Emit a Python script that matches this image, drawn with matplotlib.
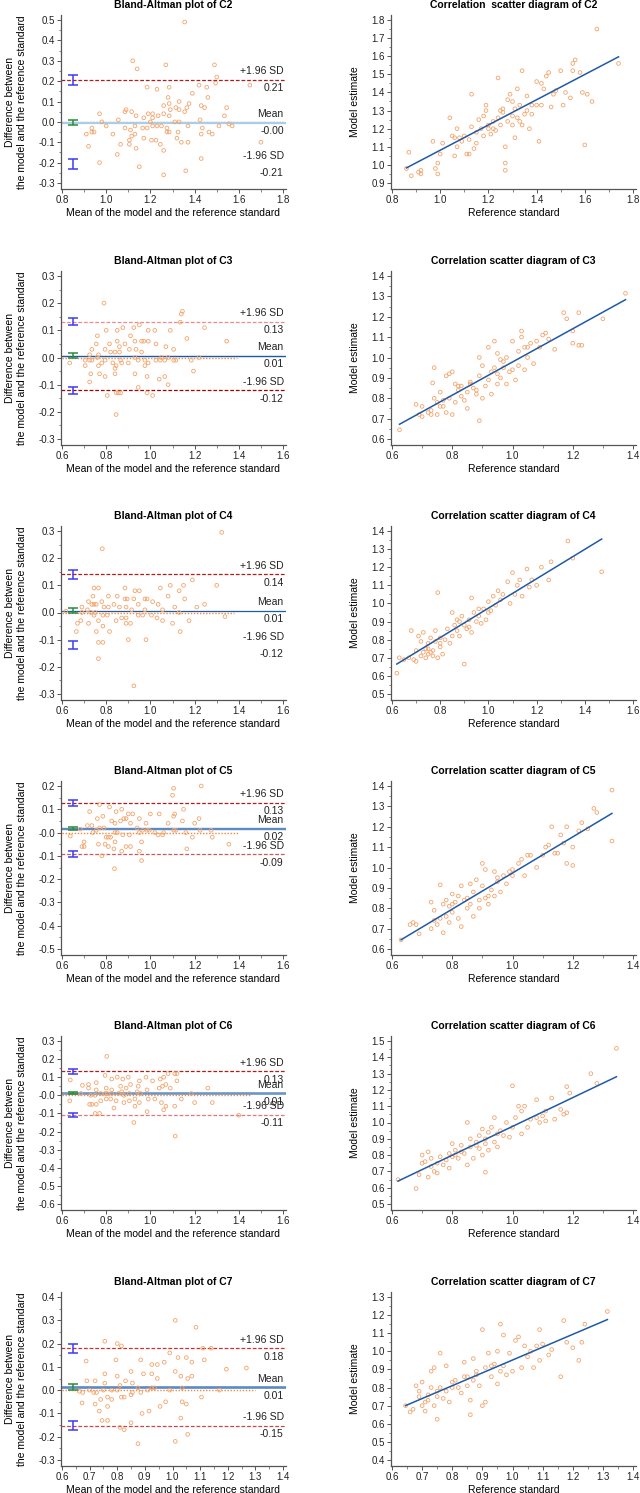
import numpy as np
import matplotlib
matplotlib.use('Agg')
import matplotlib.pyplot as plt
from matplotlib.ticker import FormatStrFormatter
import matplotlib.transforms as mtransforms

plt.rcParams['font.family'] = ['Liberation Sans', 'DejaVu Sans']
plt.rcParams['axes.unicode_minus'] = False

# (reference standard, model estimate) pairs
c2_pts = np.array([
    (0.86, 0.98), (0.87, 1.07), (0.88, 0.94), (0.91, 0.96), (0.92, 0.95), (0.92, 0.97),
    (0.97, 1.13), (0.98, 0.98), (0.99, 0.95), (0.99, 1.01), (1.00, 1.06), (1.01, 1.12),
    (1.04, 1.26), (1.06, 1.05), (1.06, 1.15), (1.07, 1.20), (1.07, 1.10), (1.08, 1.15),
    (1.09, 1.13), (1.10, 1.16), (1.11, 1.06), (1.12, 1.14), (1.13, 1.39), (1.13, 1.21),
    (1.14, 1.09), (1.15, 1.18), (1.16, 1.25), (1.17, 1.20), (1.18, 1.16), (1.18, 1.27),
    (1.19, 1.30), (1.20, 1.22), (1.21, 1.17), (1.22, 1.24), (1.22, 1.20), (1.23, 1.19),
    (1.24, 1.48), (1.24, 1.26), (1.25, 1.22), (1.26, 1.29), (1.26, 1.31), (1.27, 1.10),
    (1.27, 1.01), (1.27, 0.97), (1.28, 1.24), (1.28, 1.36), (1.29, 1.39), (1.30, 1.27),
    (1.30, 1.22), (1.31, 1.31), (1.31, 1.15), (1.32, 1.42), (1.32, 1.26), (1.33, 1.33),
    (1.34, 1.52), (1.34, 1.22), (1.35, 1.28), (1.36, 1.38), (1.36, 1.30), (1.37, 1.20),
    (1.38, 1.33), (1.40, 1.46), (1.40, 1.33), (1.41, 1.13), (1.42, 1.45), (1.43, 1.42),
    (1.44, 1.49), (1.45, 1.51), (1.46, 1.32), (1.47, 1.39), (1.48, 1.41), (1.50, 1.52),
    (1.51, 1.33), (1.52, 1.40), (1.54, 1.37), (1.55, 1.56), (1.55, 1.52), (1.56, 1.58),
    (1.58, 1.51), (1.59, 1.40), (1.60, 1.11), (1.61, 1.39), (1.63, 1.35), (1.65, 1.75),
    (1.74, 1.56), (1.15, 1.12), (1.20, 1.20), (1.05, 1.16), (1.25, 1.30), (1.30, 1.35),
    (1.33, 1.24), (1.38, 1.28), (1.42, 1.33), (1.12, 1.06), (1.19, 1.33),
])
c3_pts = np.array([
    (0.625, 0.645), (0.68, 0.77), (0.69, 0.72), (0.70, 0.71), (0.70, 0.76), (0.72, 0.73),
    (0.73, 0.72), (0.73, 0.74), (0.735, 0.875), (0.74, 0.95), (0.74, 0.80), (0.75, 0.78),
    (0.75, 0.72), (0.76, 0.83), (0.76, 0.76), (0.77, 0.79), (0.78, 0.91), (0.78, 0.73),
    (0.79, 0.92), (0.79, 0.80), (0.80, 0.72), (0.80, 0.93), (0.81, 0.87), (0.81, 0.78),
    (0.82, 0.84), (0.83, 0.81), (0.83, 0.86), (0.84, 0.79), (0.85, 0.83), (0.85, 0.75),
    (0.86, 0.87), (0.87, 0.85), (0.88, 0.82), (0.89, 0.91), (0.89, 1.00), (0.89, 0.69),
    (0.90, 0.80), (0.90, 0.96), (0.91, 0.86), (0.92, 0.89), (0.92, 1.05), (0.93, 0.82),
    (0.93, 0.93), (0.94, 0.95), (0.94, 1.08), (0.95, 0.87), (0.95, 1.02), (0.96, 0.90),
    (0.96, 0.99), (0.97, 0.95), (0.98, 0.87), (0.98, 1.00), (0.99, 0.93), (1.00, 1.08),
    (1.00, 0.94), (1.01, 0.89), (1.02, 1.03), (1.02, 0.96), (1.03, 1.13), (1.03, 1.10),
    (1.04, 0.94), (1.04, 1.05), (1.05, 1.00), (1.06, 1.07), (1.07, 0.97), (1.08, 1.08),
    (1.09, 1.05), (1.10, 1.11), (1.11, 1.12), (1.12, 1.09), (1.14, 1.04), (1.17, 1.22),
    (1.18, 1.19), (1.20, 1.13), (1.20, 1.07), (1.22, 1.22), (1.22, 1.06), (1.23, 1.06),
    (1.30, 1.19), (1.375, 1.315), (0.86, 0.88), (0.88, 0.84), (0.95, 0.92), (0.97, 0.98),
    (1.05, 1.05), (0.82, 0.86), (0.77, 0.76),
])
c4_pts = np.array([
    (0.62, 0.615), (0.63, 0.70), (0.65, 0.69), (0.67, 0.70), (0.68, 0.85), (0.69, 0.69),
    (0.70, 0.68), (0.70, 0.74), (0.71, 0.82), (0.72, 0.71), (0.72, 0.79), (0.73, 0.73),
    (0.73, 0.84), (0.74, 0.75), (0.74, 0.70), (0.75, 0.72), (0.75, 0.78), (0.76, 0.73),
    (0.76, 0.81), (0.77, 0.74), (0.77, 0.71), (0.78, 0.79), (0.78, 0.85), (0.79, 1.06),
    (0.79, 0.70), (0.80, 0.76), (0.80, 0.81), (0.81, 0.72), (0.82, 0.80), (0.83, 0.86),
    (0.84, 0.78), (0.85, 0.95), (0.85, 0.82), (0.86, 0.88), (0.87, 0.85), (0.88, 0.90),
    (0.88, 0.82), (0.89, 0.93), (0.90, 0.665), (0.90, 0.88), (0.91, 0.86), (0.92, 0.91),
    (0.93, 1.03), (0.93, 0.84), (0.94, 0.95), (0.95, 0.90), (0.96, 0.93), (0.97, 0.89),
    (0.98, 0.97), (0.99, 0.91), (1.00, 1.01), (1.01, 0.96), (1.02, 1.04), (1.03, 0.99),
    (1.04, 1.07), (1.05, 1.02), (1.06, 1.05), (1.08, 1.12), (1.09, 1.00), (1.10, 1.17),
    (1.11, 1.05), (1.12, 1.10), (1.13, 1.13), (1.14, 1.04), (1.16, 1.19), (1.17, 1.09),
    (1.18, 1.13), (1.20, 1.10), (1.22, 1.20), (1.25, 1.13), (1.26, 1.23), (1.33, 1.345),
    (1.35, 1.25), (1.47, 1.175), (0.75, 0.75), (0.80, 0.78), (0.92, 0.87), (0.96, 0.97),
    (1.00, 0.95), (0.87, 0.91),
])
c5_pts = np.array([
    (0.63, 0.645), (0.66, 0.72), (0.67, 0.73), (0.68, 0.72), (0.69, 0.675), (0.73, 0.83),
    (0.73, 0.70), (0.74, 0.74), (0.74, 0.79), (0.75, 0.72), (0.76, 0.915), (0.76, 0.75),
    (0.77, 0.82), (0.77, 0.68), (0.78, 0.84), (0.78, 0.76), (0.79, 0.73), (0.79, 0.81),
    (0.80, 0.87), (0.80, 0.78), (0.81, 0.83), (0.82, 0.75), (0.82, 0.86), (0.83, 0.91),
    (0.83, 0.71), (0.84, 0.84), (0.85, 0.80), (0.86, 0.82), (0.86, 0.92), (0.87, 0.76),
    (0.87, 0.88), (0.88, 0.94), (0.89, 0.84), (0.89, 0.80), (0.90, 1.02), (0.90, 0.91),
    (0.91, 0.85), (0.91, 0.99), (0.92, 0.82), (0.93, 0.89), (0.94, 0.98), (0.94, 0.86),
    (0.95, 0.93), (0.96, 0.88), (0.97, 0.96), (0.98, 0.92), (0.99, 0.98), (1.00, 0.96),
    (1.02, 1.02), (1.03, 1.04), (1.04, 0.96), (1.05, 1.06), (1.06, 1.06), (1.08, 1.00),
    (1.10, 1.06), (1.11, 1.10), (1.12, 1.11), (1.13, 1.20), (1.14, 1.07), (1.15, 1.07),
    (1.16, 1.16), (1.17, 1.12), (1.18, 1.20), (1.18, 1.02), (1.20, 1.10), (1.20, 1.01),
    (1.22, 1.18), (1.23, 1.22), (1.25, 1.19), (1.27, 1.29), (1.28, 1.27), (1.33, 1.38),
    (1.33, 1.13), (0.95, 0.95), (0.85, 0.85), (0.80, 0.82), (1.00, 0.99), (0.92, 0.86),
])
c6_pts = np.array([
    (0.62, 0.65), (0.68, 0.595), (0.69, 0.68), (0.70, 0.80), (0.70, 0.75), (0.71, 0.76),
    (0.72, 0.665), (0.72, 0.82), (0.73, 0.73), (0.73, 0.78), (0.74, 0.70), (0.75, 0.75),
    (0.75, 0.69), (0.76, 0.79), (0.77, 0.74), (0.78, 0.77), (0.79, 0.72), (0.79, 0.81),
    (0.80, 0.87), (0.80, 0.79), (0.81, 0.83), (0.82, 0.78), (0.83, 0.86), (0.84, 0.81),
    (0.85, 1.00), (0.85, 0.74), (0.86, 0.85), (0.86, 0.90), (0.87, 0.78), (0.88, 0.88),
    (0.89, 0.84), (0.89, 0.92), (0.90, 0.96), (0.90, 0.80), (0.91, 0.695), (0.91, 0.87),
    (0.92, 0.83), (0.92, 0.94), (0.93, 0.97), (0.94, 1.03), (0.94, 0.88), (0.95, 0.85),
    (0.96, 0.95), (0.97, 0.92), (0.98, 1.00), (0.99, 0.91), (1.00, 1.225), (1.00, 0.97),
    (1.01, 1.03), (1.02, 1.10), (1.03, 0.93), (1.03, 1.07), (1.04, 1.10), (1.05, 0.97),
    (1.06, 1.02), (1.08, 1.14), (1.08, 1.03), (1.09, 1.00), (1.10, 1.04), (1.11, 1.07),
    (1.11, 1.01), (1.13, 1.15), (1.14, 1.02), (1.16, 1.08), (1.17, 1.05), (1.18, 1.22),
    (1.18, 1.06), (1.19, 1.18), (1.26, 1.30), (1.28, 1.24), (1.345, 1.455), (0.83, 0.82),
    (0.88, 0.86), (0.95, 0.93), (0.81, 0.80), (0.91, 0.90),
])
c7_pts = np.array([
    (0.645, 0.70), (0.66, 0.665), (0.67, 0.68), (0.68, 0.81), (0.69, 0.75), (0.69, 0.78),
    (0.70, 0.83), (0.70, 0.70), (0.71, 0.72), (0.71, 0.67), (0.72, 0.76), (0.72, 0.73),
    (0.73, 0.89), (0.73, 0.80), (0.74, 0.91), (0.74, 0.70), (0.75, 0.625), (0.75, 0.75),
    (0.76, 0.99), (0.76, 0.80), (0.77, 0.74), (0.78, 0.92), (0.78, 0.78), (0.79, 0.72),
    (0.80, 0.83), (0.81, 0.84), (0.82, 0.80), (0.83, 0.77), (0.84, 0.94), (0.84, 0.86),
    (0.85, 0.81), (0.86, 0.65), (0.86, 0.73), (0.87, 0.96), (0.87, 0.84), (0.88, 0.89),
    (0.89, 0.81), (0.90, 1.12), (0.90, 0.70), (0.91, 0.72), (0.91, 0.91), (0.92, 0.99),
    (0.93, 0.86), (0.94, 0.93), (0.95, 0.82), (0.95, 1.00), (0.96, 1.15), (0.96, 0.89),
    (0.97, 1.09), (0.97, 0.92), (0.98, 0.87), (0.99, 0.99), (1.00, 0.89), (1.01, 1.06),
    (1.02, 1.08), (1.03, 0.91), (1.04, 1.03), (1.05, 0.97), (1.06, 1.00), (1.07, 0.91),
    (1.08, 1.03), (1.09, 1.12), (1.09, 0.95), (1.10, 1.04), (1.12, 0.98), (1.13, 1.01),
    (1.16, 0.86), (1.17, 1.17), (1.18, 1.05), (1.20, 1.02), (1.22, 0.95), (1.23, 1.05),
    (1.24, 1.15), (1.315, 1.22), (0.80, 0.80), (0.85, 0.86), (0.93, 0.92), (0.75, 0.78),
    (0.88, 0.87),
])

levels = ['C2', 'C3', 'C4', 'C5', 'C6', 'C7']
points = [c2_pts, c3_pts, c4_pts, c5_pts, c6_pts, c7_pts]

# Bland-Altman statistics shown on the plots
upper_loa = [0.207, 0.132, 0.140, 0.128, 0.132, 0.180]
mean_diff = [-0.004, 0.007, 0.007, 0.017, 0.012, 0.013]
lower_loa = [-0.207, -0.120, -0.120, -0.093, -0.107, -0.153]
loa_ci = [0.025, 0.013, 0.015, 0.012, 0.012, 0.020]
mean_ci = [0.012, 0.010, 0.009, 0.007, 0.007, 0.012]
ci_x = [0.85, 0.65, 0.65, 0.65, 0.65, 0.64]
zero_end = [1.80, 1.39, 1.38, 1.40, 1.45, 1.30]

# regression line of model estimate on reference standard
reg_slope = [0.697, 0.815, 0.812, 0.886, 0.883, 0.709]
reg_icpt = [0.384, 0.163, 0.162, 0.087, 0.093, 0.243]

# axis ranges
ba_xlim = [(0.8, 1.8), (0.6, 1.6), (0.6, 1.6), (0.6, 1.6), (0.6, 1.6), (0.6, 1.4)]
ba_xstep = [0.2, 0.2, 0.2, 0.2, 0.2, 0.1]
ba_ylim = [(-0.3, 0.5), (-0.3, 0.3), (-0.3, 0.3), (-0.5, 0.2), (-0.6, 0.3), (-0.3, 0.4)]
cs_xlim = [(0.8, 1.8), (0.6, 1.4), (0.6, 1.6), (0.6, 1.4), (0.6, 1.4), (0.6, 1.4)]
cs_xstep = [0.2, 0.2, 0.2, 0.2, 0.2, 0.1]
cs_ylim = [(0.9, 1.8), (0.6, 1.4), (0.5, 1.4), (0.6, 1.4), (0.5, 1.5), (0.4, 1.3)]

# line colours per panel (mimicking the source figure)
upper_col = ['#b31b1b', '#f08a8a', '#b31b1b', '#b31b1b', '#b31b1b', '#c83232']
lower_col = ['none', '#a00000', 'none', '#cc5a5a', '#e07a7a', '#c84848']
mean_col = ['#a9cdea', '#1f5aa6', '#1f5aa6', '#5b8ac4', '#6b96c8', '#5b8ac4']
mean_lw = [1.6, 1.0, 0.9, 1.7, 1.9, 1.9]

W, H = 640, 1493
row_top = [20, 276, 531, 786, 1041, 1297]   # pixel row of the top y tick
tick_span = 163
top_gap, bot_gap = 5, 6

fig = plt.figure(figsize=(W / 100, H / 100), dpi=100)

pt_col = '#f4a46c'
spine_col = '#555555'


def style_axes(ax, xlim, xstep, ylim, ystep, lpad, rpad):
    xr = xlim[1] - xlim[0]
    yr = ylim[1] - ylim[0]
    ax.set_xlim(xlim[0] - lpad * xr, xlim[1] + rpad * xr)
    ax.set_ylim(ylim[0] - bot_gap / tick_span * yr, ylim[1] + top_gap / tick_span * yr)
    ax.set_xticks(np.round(np.arange(xlim[0], xlim[1] + 1e-6, xstep), 2))
    ax.set_yticks(np.round(np.arange(ylim[0], ylim[1] + 1e-6, ystep), 2))
    ax.set_xticks(np.round(np.arange(xlim[0], xlim[1] + 1e-6, xstep / 2), 3), minor=True)
    ax.set_yticks(np.round(np.arange(ylim[0], ylim[1] + 1e-6, ystep / 2), 3), minor=True)
    ax.xaxis.set_major_formatter(FormatStrFormatter('%.1f'))
    ax.yaxis.set_major_formatter(FormatStrFormatter('%.1f'))
    for s in ['top', 'right']:
        ax.spines[s].set_visible(False)
    for s in ['left', 'bottom']:
        ax.spines[s].set_color(spine_col)
        ax.spines[s].set_linewidth(0.9)
    ax.tick_params(which='major', direction='out', length=3, width=0.7,
                   color=spine_col, labelsize=7, pad=1.2, labelcolor='#222222')
    ax.tick_params(which='minor', direction='out', length=1.8, width=0.5, color=spine_col)


for i, lev in enumerate(levels):
    ref = points[i][:, 0]
    est = points[i][:, 1]
    avg = (ref + est) / 2
    diff = ref - est

    top_px = row_top[i] - top_gap
    bot_px = row_top[i] + tick_span + bot_gap
    h = (bot_px - top_px) / H
    b = 1 - bot_px / H

    # ---- Bland-Altman panel
    ax = fig.add_axes([61 / W, b, 225 / W, h])
    style_axes(ax, ba_xlim[i], ba_xstep[i], ba_ylim[i], 0.1, 1 / 221, 3 / 221)
    ax.scatter(avg, diff, s=7, facecolors='none', edgecolors=pt_col, linewidths=0.6, zorder=3)
    ax.plot([ba_xlim[i][0], zero_end[i]], [0, 0], linestyle=(0, (1, 1.2)),
            color='#f08a3c', lw=1.0, zorder=2)
    ax.axhline(mean_diff[i], color=mean_col[i], lw=mean_lw[i], zorder=2)
    ax.axhline(upper_loa[i], color=upper_col[i], lw=0.9, ls=(0, (3, 1.5)), zorder=2)
    if lower_col[i] != 'none':
        ax.axhline(lower_loa[i], color=lower_col[i], lw=0.9, ls=(0, (3, 1.5)), zorder=2)

    for yv, ci, c in [(upper_loa[i], loa_ci[i], '#3c3cf0'),
                      (mean_diff[i], mean_ci[i], '#2e8b3a'),
                      (lower_loa[i], loa_ci[i], '#3c3cf0')]:
        ax.errorbar([ci_x[i]], [yv], yerr=[[ci], [ci]], fmt='none', ecolor=c,
                    elinewidth=1.1, capsize=3.5, capthick=1.1, zorder=4)

    tr = mtransforms.blended_transform_factory(ax.transAxes, ax.transData)
    for yv, lab in [(upper_loa[i], '+1.96 SD'), (mean_diff[i], 'Mean'),
                    (lower_loa[i], '-1.96 SD')]:
        ax.annotate(lab, xy=(0.99, yv), xycoords=tr, xytext=(0, 2.5),
                    textcoords='offset points', ha='right', va='bottom', fontsize=7.5,
                    color='#222222', zorder=5)
        ax.annotate(f'{yv:.2f}', xy=(0.99, yv), xycoords=tr, xytext=(0, -2.5),
                    textcoords='offset points', ha='right', va='top', fontsize=7.5,
                    color='#222222', zorder=5)

    ax.set_title(f'Bland-Altman plot of {lev}', fontsize=7.5, fontweight='bold', pad=5)
    ax.set_xlabel('Mean of the model and the reference standard', fontsize=7.5, labelpad=2)
    ax.set_ylabel('Difference between\nthe model and the reference standard',
                  fontsize=7.5, linespacing=1.3)
    ax.yaxis.set_label_coords(-0.15, 0.5)

    # ---- correlation scatter panel
    ax2 = fig.add_axes([391 / W, b, 245 / W, h])
    style_axes(ax2, cs_xlim[i], cs_xstep[i], cs_ylim[i], 0.1, 1 / 241, 3 / 241)
    ax2.scatter(ref, est, s=7, facecolors='none', edgecolors=pt_col, linewidths=0.6, zorder=3)
    xs = np.array([ref.min(), ref.max()])
    ax2.plot(xs, reg_icpt[i] + reg_slope[i] * xs, color='#1f5aa6', lw=1.1, zorder=4)
    if lev == 'C2':
        title = 'Correlation  scatter diagram of C2'
    else:
        title = f'Correlation scatter diagram of {lev}'
    ax2.set_title(title, fontsize=7.5, fontweight='bold', pad=5)
    ax2.set_xlabel('Reference standard', fontsize=7.5, labelpad=2)
    ax2.set_ylabel('Model estimate', fontsize=7.5)
    ax2.yaxis.set_label_coords(-0.125, 0.5)

fig.savefig('out.png', dpi=100)
